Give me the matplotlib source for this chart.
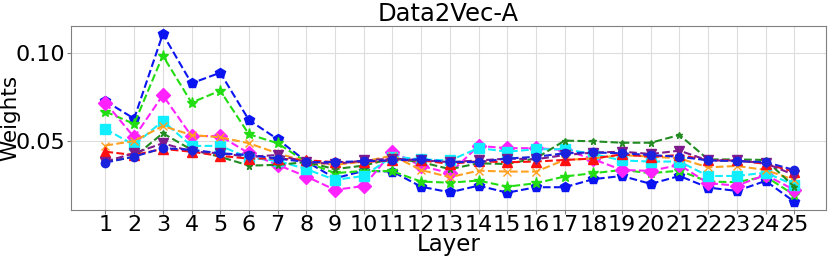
import numpy as np
import matplotlib
matplotlib.use("Agg")
import matplotlib.pyplot as plt

layers = np.arange(1, 26)

blue_p = [0.0727, 0.0627, 0.1108, 0.0828, 0.0888, 0.0619, 0.0510, 0.0383, 0.0288, 0.0330,
          0.0326, 0.0240, 0.0208, 0.0246, 0.0206, 0.0237, 0.0237, 0.0283, 0.0301, 0.0256,
          0.0301, 0.0235, 0.0216, 0.0273, 0.0155]
lime_star = [0.0667, 0.0597, 0.0985, 0.0718, 0.0786, 0.0538, 0.0487, 0.0380, 0.0317, 0.0330,
             0.0328, 0.0269, 0.0263, 0.0275, 0.0240, 0.0260, 0.0298, 0.0317, 0.0335, 0.0317,
             0.0331, 0.0269, 0.0266, 0.0298, 0.0193]
magenta_d = [0.0718, 0.0521, 0.0760, 0.0528, 0.0528, 0.0430, 0.0364, 0.0298, 0.0222, 0.0244,
             0.0439, 0.0358, 0.0317, 0.0472, 0.0459, 0.0459, 0.0449, 0.0396, 0.0335, 0.0330,
             0.0364, 0.0260, 0.0246, 0.0307, 0.0222]
cyan_s = [0.0568, 0.0477, 0.0614, 0.0472, 0.0472, 0.0405, 0.0387, 0.0340, 0.0279, 0.0301,
          0.0411, 0.0396, 0.0389, 0.0460, 0.0439, 0.0453, 0.0453, 0.0426, 0.0389, 0.0383,
          0.0383, 0.0301, 0.0301, 0.0320, 0.0250]
orange_x = [0.0474, 0.0500, 0.0585, 0.0534, 0.0521, 0.0487, 0.0430, 0.0383, 0.0364, 0.0383,
            0.0417, 0.0335, 0.0294, 0.0331, 0.0326, 0.0326, 0.0392, 0.0401, 0.0420, 0.0411,
            0.0401, 0.0350, 0.0358, 0.0335, 0.0279]
dgreen = [0.0380, 0.0410, 0.0544, 0.0450, 0.0410, 0.0360, 0.0364, 0.0380, 0.0340, 0.0360,
          0.0400, 0.0380, 0.0340, 0.0373, 0.0369, 0.0401, 0.0502, 0.0498, 0.0490, 0.0490,
          0.0534, 0.0395, 0.0395, 0.0392, 0.0240]
red_t = [0.0439, 0.0420, 0.0455, 0.0439, 0.0415, 0.0400, 0.0400, 0.0390, 0.0380, 0.0380,
         0.0390, 0.0390, 0.0370, 0.0385, 0.0379, 0.0383, 0.0392, 0.0400, 0.0424, 0.0410,
         0.0420, 0.0390, 0.0390, 0.0370, 0.0326]
purple_v = [0.0383, 0.0430, 0.0487, 0.0440, 0.0430, 0.0410, 0.0420, 0.0380, 0.0369, 0.0389,
            0.0400, 0.0390, 0.0380, 0.0389, 0.0400, 0.0396, 0.0420, 0.0434, 0.0439, 0.0426,
            0.0445, 0.0389, 0.0389, 0.0373, 0.0307]
blue_o = [0.0377, 0.0411, 0.0459, 0.0450, 0.0430, 0.0420, 0.0400, 0.0380, 0.0380, 0.0385,
          0.0390, 0.0396, 0.0380, 0.0380, 0.0400, 0.0410, 0.0430, 0.0435, 0.0430, 0.0420,
          0.0410, 0.0390, 0.0385, 0.0380, 0.0335]

series = [
    (blue_p, "#0a14f0", "p", 7),
    (lime_star, "#22dd11", "*", 8),
    (magenta_d, "#ff22ff", "D", 7),
    (cyan_s, "#11eeff", "s", 7),
    (orange_x, "#ffa020", "x", 6),
    (dgreen, "#228b22", "*", 5),
    (red_t, "#ff1010", "^", 7),
    (purple_v, "#7d1a8c", "v", 7),
    (blue_o, "#1a22dd", "o", 6),
]

fig, ax = plt.subplots(figsize=(8.3, 2.56), dpi=100)
fig.subplots_adjust(left=0.0855, right=0.995, bottom=0.18, top=0.898)

for vals, col, mk, ms in series:
    ax.plot(layers, vals, linestyle="--", color=col, marker=mk, markersize=ms, linewidth=1.5)

ax.set_xlim(-0.2, 26.1)
ax.set_ylim(0.0108, 0.1153)
ax.set_xticks(layers)
ax.set_yticks([0.05, 0.10])
ax.set_yticklabels(["0.05", "0.10"])
ax.tick_params(labelsize=16, length=3, color="gray", pad=1)
ax.grid(True, color="#dddddd", linewidth=0.8)
ax.set_axisbelow(True)
for sp in ax.spines.values():
    sp.set_color("gray")
ax.set_title("Data2Vec-A", fontsize=17.5, pad=2)
ax.set_xlabel("Layer", fontsize=16.5)
ax.set_ylabel("Weights", fontsize=15.5)
ax.xaxis.set_label_coords(0.5, -0.125)
ax.yaxis.set_label_coords(-0.067, 0.5)

fig.savefig("out.png", dpi=100)
